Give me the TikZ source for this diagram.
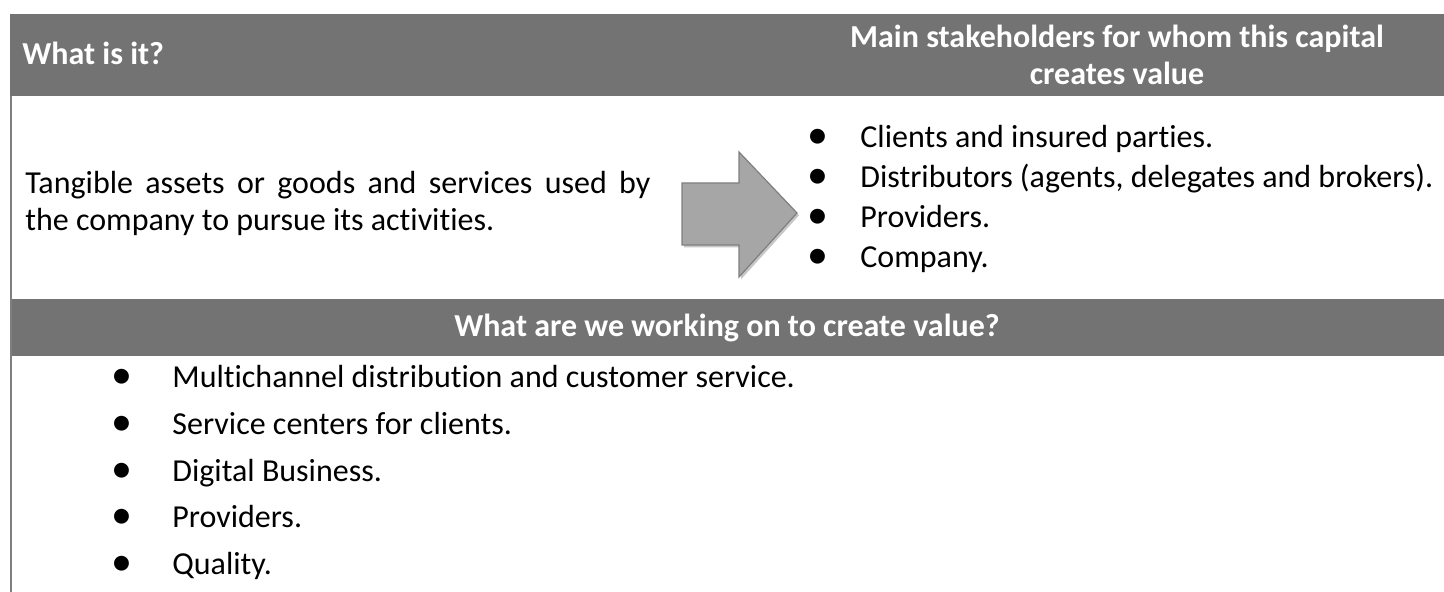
\documentclass[tikz,border=0pt]{standalone}
\usepackage{fontspec}
\setmainfont[Ligatures=NoCommon]{Carlito}
\usepackage{tikz}
\usetikzlibrary{positioning}
\usetikzlibrary{shadows}
\definecolor{hdrgray}{HTML}{737373}
\definecolor{rulegray}{HTML}{7F7F7F}
\definecolor{arrowfill}{HTML}{A6A6A6}

\begin{document}
\begin{tikzpicture}
        [x=0.5pt,y=-0.5pt,
         head/.style={text=white,font=\bfseries\fontsize{16}{18}\selectfont,inner sep=0pt},
         body/.style={font=\fontsize{16}{18}\selectfont,inner sep=0pt},
         dot/.style={font=\fontsize{21}{21}\selectfont,inner sep=0pt,anchor=base}]
      \useasboundingbox (0,0) rectangle (1444,592);
      % header bars and left rule
      \fill[hdrgray] (10,14) rectangle (1444,96);
      \fill[hdrgray] (10,299) rectangle (1444,356);
      \draw[rulegray,line width=1pt] (11,96) -- (11,592);
      % header texts
      \node[head,anchor=base west] (whatis) at (22,65) {What is it?};
      \node[head,anchor=base] (stake) at (1117,48) {Main stakeholders for whom this capital};
      \node[head,anchor=base] (stakeb) at (1117,85) {creates value};
      \node[head,anchor=base] (working) at (727,337) {What are we working on to create value?};
      % definition
      \node[body,anchor=base west] (defa) at (25,194)
        {\makebox[312.5pt][s]{Tangible assets or goods and services used by}};
      \node[body,anchor=base west] (defb) at (25,231) {the company to pursue its activities.};
      % arrow
      \filldraw[fill=arrowfill,draw=rulegray,line width=0.6pt,
        drop shadow={shadow xshift=1pt,shadow yshift=-1.2pt,fill=black!22,opacity=1}]
        (682,183) -- (739,183) -- (739,152) -- (797,213) -- (739,277)
        -- (739,245) -- (682,245) -- cycle;
      % stakeholders
      \foreach \txt [count=\i] in {Clients and insured parties.,
          {Distributors (agents, delegates and brokers).}, Providers., Company.} {
        \node[dot] (sdot\i) at (818,109+40*\i) {•};
        \node[body,anchor=base west] (sitem\i) at (860,108+40*\i) {\txt};
      }
      % work items
      \foreach \txt [count=\i] in {Multichannel distribution and customer service.,
          Service centers for clients., Digital Business., Providers., Quality.} {
        \node[dot] (wdot\i) at (122,342.5+46.5*\i) {•};
        \node[body,anchor=base west] (witem\i) at (172,341.5+46.5*\i) {\txt};
      }
      \end{tikzpicture}
\end{document}
